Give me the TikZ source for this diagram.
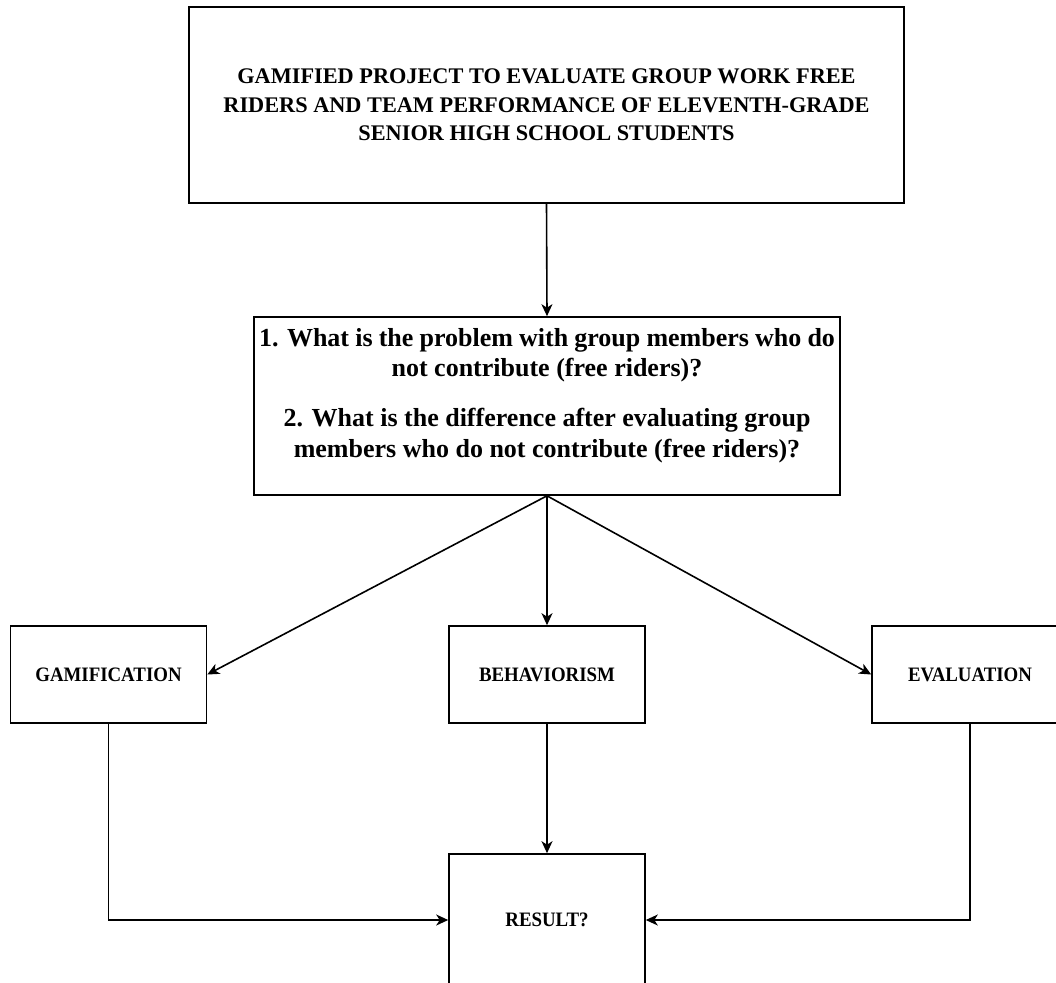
\documentclass[tikz,border=0pt]{standalone}
\usepackage{fontspec}
\setmainfont{Liberation Serif}
\usetikzlibrary{arrows.meta}
\begin{document}
\begin{tikzpicture}[x=1pt,y=-1pt,
  box/.style={draw=black,line width=1.6pt,fill=white,inner sep=0pt,align=center},
  smallbox/.style={box,minimum width=196pt,minimum height=97pt,font=\fontsize{20.5}{24}\selectfont\bfseries\addfontfeature{FakeStretch=0.92}},
  arr/.style={draw=black,line width=1.6pt,-{Stealth[length=12pt,width=11pt,inset=3.5pt]}}]
\useasboundingbox (0,0) rectangle (1056,982);
\clip (0,0) rectangle (1056,982);
\fill[white] (0,0) rectangle (1056,982);

\node[box,minimum width=715pt,minimum height=196pt,font=\fontsize{22.3}{28.5}\selectfont\bfseries] (t) at (546.5,105)
  {GAMIFIED PROJECT TO EVALUATE GROUP WORK FREE\\RIDERS AND TEAM PERFORMANCE OF ELEVENTH-GRADE\\SENIOR HIGH SCHOOL STUDENTS};

\node[draw=black,line width=1.6pt,fill=white,inner xsep=5pt,inner ysep=0pt] (q) at (547,406)
  {\parbox[c][178pt][t]{576pt}{\centering\fontsize{26}{30.5}\selectfont\bfseries
   \vspace*{11pt}1. What is the problem with group members who do\\not contribute (free riders)?\par
   \vspace{19.5pt}2. What is the difference after evaluating group\\members who do not contribute (free riders)?\par}};

\node[smallbox] (g) at (108.5,674.5) {GAMIFICATION};
\node[smallbox] (b) at (547,674.5) {BEHAVIORISM};
\node[smallbox] (e) at (970,674.5) {EVALUATION};
\node[smallbox,minimum height=132pt] (r) at (547,920) {RESULT?};

\draw[arr] (t.south) -- (q.north);
\draw[arr] (q.south) -- (g.east);
\draw[arr] (q.south) -- (b.north);
\draw[arr] (q.south) -- (e.west);
\draw[arr] (b.south) -- (r.north);
\draw[arr] (g.south) |- (r.west);
\draw[arr] (e.south) |- (r.east);
\end{tikzpicture}
\end{document}
